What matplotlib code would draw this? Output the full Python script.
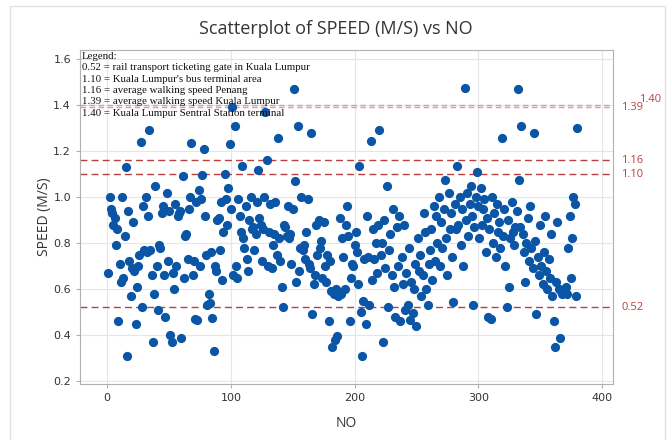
import matplotlib.pyplot as plt
import matplotlib.patches as patches

speed = [
    0.67, 1.00, 0.95, 0.93, 0.88, 0.91, 0.79, 0.86, 0.46, 0.71,
    0.63, 1.00, 0.65, 0.83, 1.13, 0.31, 0.94, 0.72, 0.57, 0.69,
    0.89, 0.68, 0.45, 0.61, 0.70, 0.75, 1.24, 0.52, 0.96, 0.77,
    1.00, 0.76, 0.92, 1.29, 0.77, 0.66, 0.37, 0.58, 1.05, 0.70,
    0.51, 0.79, 0.78, 0.93, 0.96, 0.66, 0.48, 1.02, 0.72, 0.94,
    0.40, 0.37, 0.67, 0.60, 0.97, 0.70, 0.92, 0.93, 0.94, 0.385,
    1.09, 0.65, 0.83, 0.84, 0.73, 0.95, 1.00, 1.235, 0.66, 0.72,
    0.47, 0.98, 0.465, 1.03, 0.70, 0.99, 1.095, 1.21, 0.92, 0.75,
    0.53, 0.58, 0.54, 0.76, 0.475, 0.33, 0.70, 0.68, 0.90, 0.91,
    0.77, 0.98, 0.64, 0.85, 1.10, 0.99, 0.88, 1.04, 1.23, 0.95,
    1.39, 0.66, 1.31, 0.70, 0.65, 0.99, 0.92, 0.85, 1.135, 0.82,
    0.78, 0.96, 0.73, 0.68, 0.90, 1.00, 0.86, 0.87, 0.77, 0.84,
    0.98, 1.12, 0.91, 0.88, 0.72, 0.86, 1.00, 1.37, 1.16, 0.70,
    0.85, 0.97, 0.69, 0.79, 0.84, 0.98, 0.75, 1.255, 0.82, 0.72,
    0.61, 0.52, 0.88, 0.87, 0.83, 0.96, 0.82, 0.84, 0.71, 0.95,
    1.47, 1.07, 0.63, 1.31, 0.68, 0.78, 1.00, 0.77, 0.79, 0.73,
    0.85, 0.99, 0.71, 0.69, 1.28, 0.49, 0.62, 0.66, 0.88, 0.75,
    0.90, 0.78, 0.81, 0.65, 0.89, 0.70, 0.63, 0.75, 0.46, 0.72,
    0.59, 0.35, 0.58, 0.38, 0.60, 0.395, 0.57, 0.91, 0.58, 0.82,
    0.74, 0.60, 0.88, 0.96, 0.83, 0.46, 0.65, 0.71, 0.70, 0.79,
    0.85, 0.76, 0.62, 1.135, 0.50, 0.31, 0.55, 0.73, 0.45, 0.92,
    0.74, 0.53, 1.245, 0.64, 0.86, 0.73, 0.80, 0.67, 0.88, 1.29,
    0.75, 0.80, 0.37, 0.90, 0.69, 1.05, 0.52, 0.77, 0.84, 0.66,
    0.95, 0.61, 0.48, 0.87, 0.70, 0.92, 0.46, 0.74, 0.62, 0.88,
    0.51, 0.67, 0.53, 0.78, 0.465, 0.63, 0.495, 0.60, 0.71, 0.44,
    0.82, 0.68, 0.75, 0.57, 0.66, 0.93, 0.85, 0.60, 0.53, 0.71,
    0.77, 0.86, 0.64, 0.96, 0.72, 0.92, 0.80, 1.00, 0.70, 0.89,
    0.78, 0.95, 1.075, 0.82, 0.66, 1.02, 0.86, 0.93, 0.74, 0.545,
    0.97, 0.86, 1.135, 0.88, 1.00, 0.79, 0.95, 0.70, 1.475, 0.90,
    1.02, 0.83, 0.97, 1.05, 0.92, 0.53, 0.87, 1.00, 1.11, 0.96,
    0.82, 1.04, 0.88, 0.95, 0.99, 0.76, 0.91, 0.48, 0.86, 0.47,
    1.00, 0.80, 0.93, 0.74, 0.97, 0.85, 0.89, 0.78, 1.255, 0.83,
    0.95, 0.70, 0.52, 0.90, 0.61, 0.82, 0.98, 0.85, 0.79, 0.87,
    0.94, 1.47, 1.075, 0.87, 1.31, 0.84, 0.76, 0.63, 0.80, 0.91,
    0.72, 0.96, 0.78, 0.69, 1.28, 0.81, 0.49, 0.74, 0.66, 0.88,
    0.70, 0.62, 0.76, 0.92, 0.68, 0.60, 0.73, 0.65, 0.84, 0.57,
    0.46, 0.35, 0.63, 0.89, 0.60, 0.385, 0.59, 0.58, 0.60, 0.59,
    0.61, 0.58, 0.78, 0.92, 0.65, 0.82, 1.00, 0.97, 0.57, 1.30,
]
no = list(range(1, len(speed) + 1))

ref_values = [0.52, 1.10, 1.16, 1.39, 1.40]
ref_labels = ["0.52", "1.10", "1.16", "1.39", "1.40"]
legend_lines = [
    "Legend:",
    "0.52 = rail transport ticketing gate in Kuala Lumpur",
    "1.10 = Kuala Lumpur's bus terminal area",
    "1.16 = average walking speed Penang",
    "1.39 = average walking speed Kuala Lumpur",
    "1.40 = Kuala Lumpur Sentral Station terminal",
]

red = "#b8403f"
fig = plt.figure(figsize=(6.72, 4.40), dpi=100)
fig.patches.append(patches.Rectangle((10/672, -0.01), 655/672, 1 - 6/440 + 0.01,
                                     transform=fig.transFigure, fill=False,
                                     edgecolor="#e2e2e2", linewidth=1))
ax = fig.add_axes([80/672, 1 - 384/440, 533/672, 334/440])

ax.grid(True, color="#e6e6e6", linewidth=0.8)
ax.set_axisbelow(True)
for v in ref_values:
    pale = v >= 1.39
    ax.axhline(v, color="#e39a9a" if pale else red, linestyle=(0, (4, 2.5)) if pale else (0, (5, 3)),
               linewidth=1.0, zorder=1)
ax.scatter(no, speed, s=44, color="#0a55a5", zorder=3, linewidths=0)

ax.set_xlim(-22, 409)
ax.set_ylim(0.187, 1.64)
ax.set_xticks([0, 100, 200, 300, 400])
ax.set_yticks([0.2, 0.4, 0.6, 0.8, 1.0, 1.2, 1.4, 1.6])
ax.set_yticklabels(["0.2", "0.4", "0.6", "0.8", "1.0", "1.2", "1.4", "1.6"])
for s in ax.spines.values():
    s.set_color("#b0b0b0")
ax.tick_params(colors="#333333", labelsize=8, length=3, color="#b0b0b0")
ax.set_xlabel("NO", fontsize=10, color="#333333", family="Open Sans", labelpad=9)
ax.set_ylabel("SPEED (M/S)", fontsize=10, color="#333333", family="Open Sans", labelpad=1)
fig.suptitle("Scatterplot of SPEED (M/S) vs NO", x=0.5, y=0.955, fontsize=13,
             color="#333333", family="Open Sans")

# labels for the reference lines, right of the plot
offsets = {"0.52": (0, 0), "1.10": (0, 0), "1.16": (0, 0), "1.39": (0, 0), "1.40": (13, 4)}
for v, lab in zip(ref_values, ref_labels):
    dx, dy = offsets[lab]
    ax.annotate(lab, xy=(1, v), xycoords=("axes fraction", "data"),
                xytext=(6 + dx, dy), textcoords="offset points", va="center", ha="left",
                fontsize=8, color=red, family="Open Sans", annotation_clip=False)

ax.text(0.004, 0.995, "\n".join(legend_lines), transform=ax.transAxes, va="top", ha="left",
        fontsize=7.8, family="Liberation Serif", color="#111111", linespacing=1.35, zorder=4)

fig.savefig("out.png", dpi=100)
